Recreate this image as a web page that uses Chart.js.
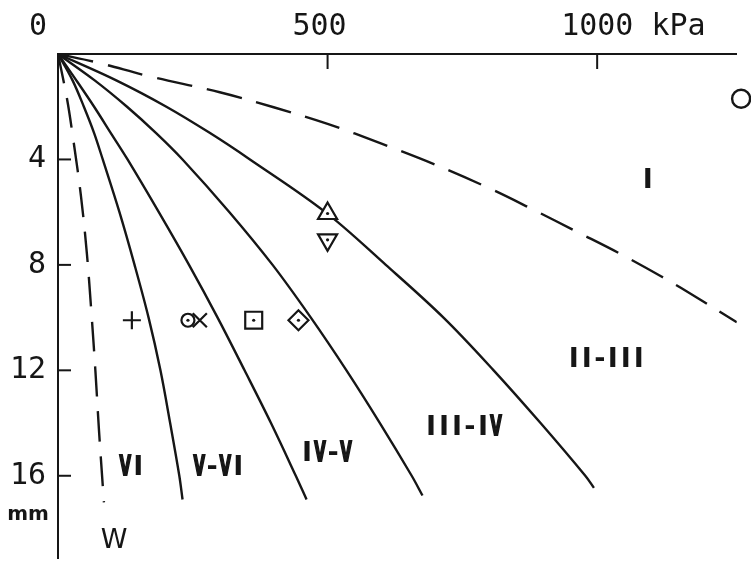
<!DOCTYPE html>
<html><head><meta charset="utf-8">
<script src="https://cdn.jsdelivr.net/npm/chart.js@4.4.0/dist/chart.umd.min.js"></script>
<style>html,body{margin:0;padding:0;background:#fff;overflow:hidden}#wrap{width:751px;height:573px}</style>
</head><body><div id="wrap"><canvas id="c" width="751" height="573"></canvas></div>
<script>
// ---- data (pressure kPa, depth mm) ----
const wKpa  = [0, 16.7, 27.8, 42.6, 53.7, 62, 69.4, 75.9, 83.3, 85.2];
const wMm   = [0, 1.7, 3.17, 5.39, 7.6, 9.82, 12.03, 14.24, 16.46, 17.01];

const c1Kpa = [0, 27, 48, 67, 83, 114, 142, 168, 190, 208, 225, 231];
const c1Mm  = [0, 1, 2, 3, 4, 6, 8, 10, 12, 14, 16, 16.9];

const c2Kpa = [0, 34, 67, 98, 129, 187, 243, 296, 346, 395, 441, 461];
const c2Mm  = [0, 1, 2, 3, 4, 6, 8, 10, 12, 14, 16, 16.9];

const c3Kpa = [0, 68, 128, 182, 231, 318, 398, 469, 535, 597, 656, 676];
const c3Mm  = [0, 1, 2, 3, 4, 6, 8, 10, 12, 14, 16, 16.75];

const c4Kpa = [0, 108, 201, 282, 356, 496, 608, 715, 808, 895, 978, 994];
const c4Mm  = [0, 1, 2, 3, 4, 6, 8, 10, 12, 14, 16, 16.46];

const iKpa  = [0, 74, 170, 300, 400, 500, 600, 700, 804, 878, 963, 1041, 1120, 1193, 1259];
const iMm   = [0, 0.33, 0.85, 1.45, 2.02, 2.65, 3.4, 4.2, 5.13, 5.87, 6.75, 7.56, 8.45, 9.34, 10.18];

const markerKpa    = [137, 241, 263, 363, 446, 500, 500];
const markerMm     = [10.1, 10.1, 10.1, 10.1, 10.1, 6.05, 7.05];
const markerStyles = ['cross', 'circle', 'crossRot', 'rect', 'rectRot', 'triangle', 'triangle'];
const markerDotted = [false, true, false, true, true, true, true];

const edgeKpa = [1267];
const edgeMm  = [1.7];

const regionLabels = ['I', 'II-III', 'III-IV', 'IV-V', 'V-VI', 'VI', 'W'];
const regionKpa    = [1094, 1017, 752, 498, 298, 137, 104];
const regionMm     = [4.72, 11.48, 14.06, 15.06, 15.6, 15.6, 18.49];

const xTickValues = [0, 500, 1000];
const xTickLabels = ['0', '500', '1000 kPa'];
const yTickValues = [4, 8, 12, 16];
const yTickLabels = ['4', '8', '12', '16'];
const yUnit = 'mm';

// ---- drawing ----
const INK = '#161616';
const pts = (k, m) => k.map((v, i) => ({x: v, y: m[i]}));
const lineDs = (k, m, dash) => ({
  data: pts(k, m), showLine: true, borderColor: INK, borderWidth: 2.4,
  borderDash: dash || [], pointRadius: 0, tension: 0.35, fill: false, order: 1
});

// plotter-like lettering: fixed pitch, narrow V
function drawPlotterText(ctx, text, cx, cy) {
  const pitch = 13;
  const n = text.length;
  const x0 = cx - (n - 1) * pitch / 2;
  ctx.font = 'bold 27px "DejaVu Sans"';
  ctx.textAlign = 'center';
  ctx.textBaseline = 'alphabetic';
  const base = cy + 10;
  for (let i = 0; i < n; i++) {
    const ch = text[i];
    const px = x0 + i * pitch;
    ctx.save();
    ctx.translate(px, base);
    if (ch === 'V') {
      ctx.scale(0.55, 1);
      ctx.lineWidth = 2.2; ctx.strokeStyle = INK;
      ctx.strokeText(ch, 0, 0);
    }
    ctx.fillText(ch, 0, 0);
    ctx.restore();
  }
}

const decor = {
  id: 'decor',
  afterDraw(chart) {
    const {ctx, scales: {x, y}} = chart;
    ctx.save();
    ctx.strokeStyle = INK; ctx.lineWidth = 2; ctx.fillStyle = INK;
    xTickValues.forEach(v => {
      if (v === 0) return;
      const px = x.getPixelForValue(v);
      ctx.beginPath(); ctx.moveTo(px, y.top); ctx.lineTo(px, y.top + 15); ctx.stroke();
    });
    yTickValues.forEach(v => {
      const py = y.getPixelForValue(v);
      ctx.beginPath(); ctx.moveTo(x.left, py); ctx.lineTo(x.left + 13, py); ctx.stroke();
    });
    ctx.font = '30px "DejaVu Sans Mono"';
    ctx.textBaseline = 'middle';
    const ly = y.top - 27;
    xTickValues.forEach((v, i) => {
      const px = x.getPixelForValue(v);
      if (i === 0) { ctx.textAlign = 'center'; ctx.fillText(xTickLabels[i], px - 20, ly); }
      else if (i === xTickValues.length - 1) { ctx.textAlign = 'left'; ctx.fillText(xTickLabels[i], px - 36, ly); }
      else { ctx.textAlign = 'center'; ctx.fillText(xTickLabels[i], px - 8, ly); }
    });
    ctx.textAlign = 'right';
    yTickValues.forEach((v, i) => ctx.fillText(yTickLabels[i], x.left - 12, y.getPixelForValue(v)));
    ctx.font = 'bold 20px "DejaVu Sans"';
    ctx.textAlign = 'center';
    ctx.fillText(yUnit, x.left - 30, y.getPixelForValue(16) + 39);
    // region labels
    regionLabels.forEach((t, i) => {
      const cx = x.getPixelForValue(regionKpa[i]);
      const cy = y.getPixelForValue(regionMm[i]);
      if (t === 'W') {
        ctx.font = '27px "DejaVu Sans"';
        ctx.textAlign = 'center'; ctx.textBaseline = 'middle';
        ctx.fillText(t, cx, cy);
      } else {
        drawPlotterText(ctx, t, cx, cy);
      }
    });
    ctx.restore();
  }
};

const markerRadius = {cross: 9, circle: 6.5, crossRot: 10, rect: 12, rectRot: 10, triangle: 11};
const dotK = [], dotM = [];
markerKpa.forEach((k, i) => { if (markerDotted[i]) { dotK.push(k); dotM.push(markerMm[i]); } });

new Chart(document.getElementById('c'), {
  type: 'scatter',
  data: {
    datasets: [
      lineDs(wKpa, wMm, [30, 15]),
      lineDs(iKpa, iMm, [36, 15]),
      lineDs(c1Kpa, c1Mm),
      lineDs(c2Kpa, c2Mm),
      lineDs(c3Kpa, c3Mm),
      lineDs(c4Kpa, c4Mm),
      {
        data: pts(markerKpa, markerMm), showLine: false, order: -2,
        pointStyle: markerStyles,
        pointRadius: markerStyles.map(s => markerRadius[s]),
        pointRotation: markerMm.map((m, i) => i === 6 ? 180 : 0),
        pointBorderColor: INK, pointBackgroundColor: '#fff', pointBorderWidth: 2.2
      },
      {
        data: pts(dotK, dotM), showLine: false, order: -3,
        pointStyle: 'circle', pointRadius: 1.6, pointBorderWidth: 0,
        pointBackgroundColor: INK
      },
      {
        data: pts(edgeKpa, edgeMm), showLine: false, order: -2, clip: false,
        pointStyle: 'circle', pointRadius: 9, pointBorderWidth: 2.4,
        pointBorderColor: INK, pointBackgroundColor: '#fff'
      }
    ]
  },
  options: {
    responsive: false, animation: false, devicePixelRatio: 1,
    layout: {padding: {left: 0, top: 0, right: 13, bottom: 0}},
    plugins: {legend: {display: false}, tooltip: {enabled: false}},
    scales: {
      x: {type: 'linear', position: 'top', min: 0, max: 1259,
          grid: {display: false}, ticks: {display: false},
          border: {display: true, color: INK, width: 2},
          afterFit(s) { s.height = 54; }},
      y: {type: 'linear', position: 'left', reverse: true, min: 0, max: 19.15,
          grid: {display: false}, ticks: {display: false},
          border: {display: true, color: INK, width: 2},
          afterFit(s) { s.width = 58; }}
    }
  },
  plugins: [decor]
});
</script></body></html>
